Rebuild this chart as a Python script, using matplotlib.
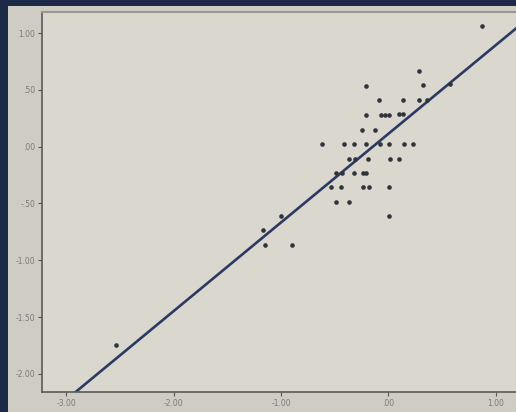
import numpy as np
import matplotlib
matplotlib.use("Agg")
import matplotlib.pyplot as plt
from matplotlib.patches import Rectangle

# scatter values
x_vals = [0.873, 0.289, -0.212, 0.326, 0.575, -0.089, 0.137, 0.289, 0.363,
          -0.212, -0.071, -0.028, 0.009, 0.100, 0.137, -0.248, -0.121,
          -0.615, -0.410, -0.324, -0.212, -0.077, 0.008, 0.144, 0.233,
          -0.366, -0.308, -0.189, 0.013, 0.097,
          -0.487, -0.427, -0.322, -0.240, -0.208,
          -0.534, -0.444, -0.236, -0.180, 0.008,
          -0.487, -0.369, 0.007, -1.000, -1.172, -1.152, -0.900, -2.540]
y_vals = [1.062, 0.669, 0.537, 0.543, 0.552, 0.407, 0.407, 0.411, 0.407,
          0.279, 0.279, 0.279, 0.279, 0.285, 0.285, 0.151, 0.151,
          0.021, 0.021, 0.021, 0.021, 0.028, 0.021, 0.024, 0.024,
          -0.104, -0.104, -0.104, -0.104, -0.104,
          -0.232, -0.232, -0.232, -0.232, -0.232,
          -0.359, -0.359, -0.359, -0.359, -0.359,
          -0.484, -0.484, -0.606, -0.610, -0.735, -0.865, -0.865, -1.748]

# fitted line
fit_slope = 0.780
fit_intercept = 0.113

x_ticks = [-3.0, -2.0, -1.0, 0.0, 1.0]
x_tick_labels = ["-3.00", "-2.00", "-1.00", ".00", "1.00"]
y_ticks = [1.0, 0.5, 0.0, -0.5, -1.0, -1.5, -2.0]
y_tick_labels = ["1.00", ".50", ".00", "-.50", "-1.00", "-1.50", "-2.00"]

W, H = 516, 412
fig = plt.figure(figsize=(W / 100, H / 100), dpi=100)
fig.patch.set_facecolor("#1c2a48")

# light screen panel behind the chart
panel = Rectangle((8 / W, 0), 1 - 8 / W, (H - 6) / H,
                  transform=fig.transFigure, facecolor="#cfccc4",
                  edgecolor="none", zorder=-10)
fig.add_artist(panel)

ax = fig.add_axes([42 / W, (H - 391.7) / H, (W - 42) / W, (391.7 - 12) / H])
ax.set_facecolor("#dad7cf")
ax.set_xlim(-3.227, 1.19)
ax.set_ylim(-2.157, 1.186)

ax.scatter(x_vals, y_vals, s=11, color="#30333b", zorder=3, linewidths=0)

xl = np.array(ax.get_xlim())
ax.plot(xl, fit_intercept + fit_slope * xl, color="#2c3a62", lw=1.9, zorder=2)

ax.set_xticks(x_ticks)
ax.set_xticklabels(x_tick_labels)
ax.set_yticks(y_ticks)
ax.set_yticklabels(y_tick_labels)
ax.tick_params(direction="out", length=3, width=0.8, color="#555555",
               labelsize=5.5, labelcolor="#7a7a7a", pad=2)

for side in ["left", "bottom"]:
    ax.spines[side].set_color("#5a5a5a")
    ax.spines[side].set_linewidth(1.2)
ax.spines["top"].set_color("#9a9892")
ax.spines["top"].set_linewidth(1.5)
ax.spines["right"].set_visible(False)

fig.savefig("out.png", dpi=100, facecolor=fig.get_facecolor())
